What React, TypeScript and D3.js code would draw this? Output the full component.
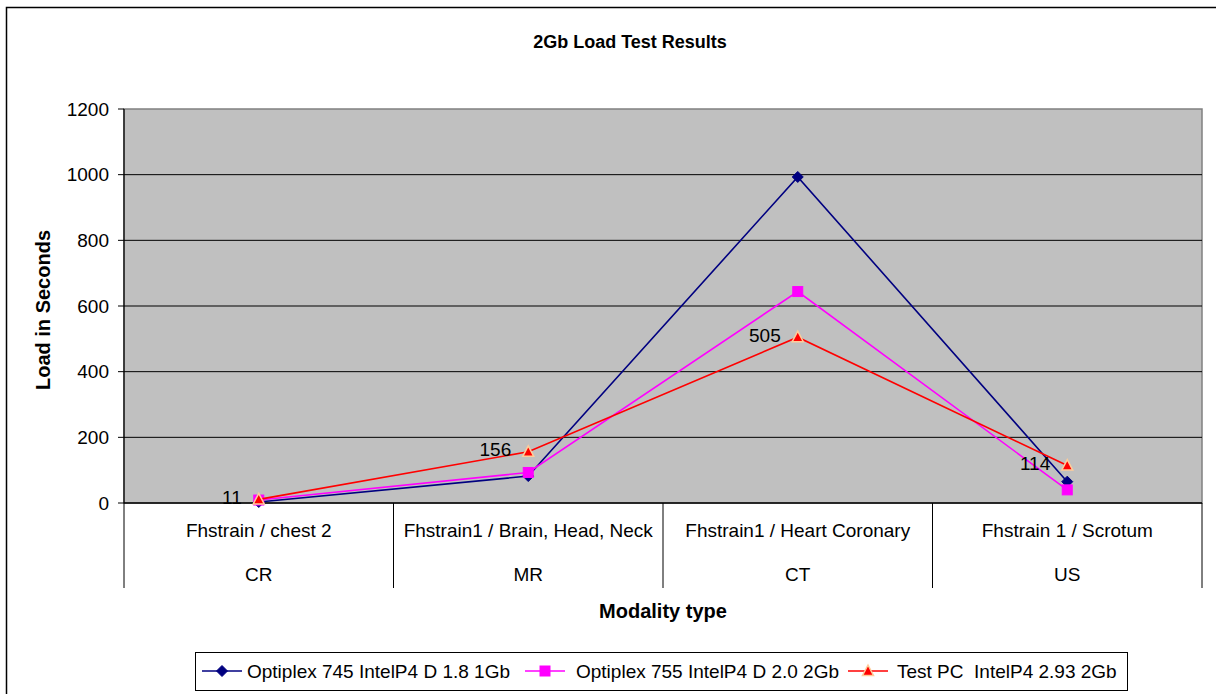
import * as d3 from 'd3';

const categories = ['CR', 'MR', 'CT', 'US'];
const subLabels = ['Fhstrain / chest 2', 'Fhstrain1 / Brain, Head, Neck', 'Fhstrain1 / Heart Coronary', 'Fhstrain 1 / Scrotum'];
const yTicks = [0, 200, 400, 600, 800, 1000, 1200];

const optiplex745 = [3, 82, 993, 65];
const optiplex755 = [9, 93, 644, 40];
const testPC = [11, 156, 505, 114];

type Series = { name: string; values: number[]; color: string; marker: 'diamond' | 'square' | 'triangle'; labels: boolean };

const series: Series[] = [
  { name: 'Optiplex 745 IntelP4 D 1.8 1Gb', values: optiplex745, color: '#000080', marker: 'diamond', labels: false },
  { name: 'Optiplex 755 IntelP4 D 2.0 2Gb', values: optiplex755, color: '#FF00FF', marker: 'square', labels: false },
  { name: 'Test PC  IntelP4 2.93 2Gb', values: testPC, color: '#FF0000', marker: 'triangle', labels: true },
];

const FONT = '"Liberation Sans", Arial, sans-serif';

function Marker({ kind, x, y, color }: { kind: string; x: number; y: number; color: string }) {
  if (kind === 'diamond') {
    return <path d={`M${x},${y - 5.5}L${x + 5.5},${y}L${x},${y + 5.5}L${x - 5.5},${y}Z`} fill={color} stroke={color} />;
  }
  if (kind === 'square') {
    return <rect x={x - 5} y={y - 5} width={10} height={10} fill={color} stroke={color} />;
  }
  return <path d={`M${x},${y - 6}L${x + 5.5},${y + 4.5}L${x - 5.5},${y + 4.5}Z`} fill={color} stroke="#FFCC99" strokeWidth={1.5} />;
}

export default function App() {
  const width = 1216;
  const height = 694;
  const left = 124, right = 1202, top = 109, bottom = 503;

  const xBand = d3.scaleBand<string>().domain(categories).range([left, right]);
  const y = d3.scaleLinear().domain([0, 1200]).range([bottom, top]);
  const cx = (c: string) => (xBand(c) ?? 0) + xBand.bandwidth() / 2;

  const line = d3.line<number>()
    .x((_, i) => cx(categories[i]))
    .y(d => y(d));

  const legendItems = [
    { lx: 202, tx: 247 },
    { lx: 525, tx: 576 },
    { lx: 848, tx: 897 },
  ];

  return (
    <svg width={width} height={height} style={{ position: 'absolute', left: 0, top: 0, fontFamily: FONT }}>
      <rect x={0} y={0} width={width} height={height} fill="#fff" />
      <rect x={6.5} y={7.5} width={1240} height={700} fill="#fff" stroke="#000" strokeWidth={1.5} />

      <text x={630} y={48} textAnchor="middle" fontWeight="bold" fontSize={18}>2Gb Load Test Results</text>

      {/* plot area */}
      <rect x={left} y={top} width={right - left} height={bottom - top} fill="#C0C0C0" stroke="#808080" strokeWidth={1.5} />
      {yTicks.filter(t => t > 0 && t < 1200).map(t => (
        <line key={t} x1={left} x2={right} y1={y(t)} y2={y(t)} stroke="#000" strokeWidth={1} />
      ))}
      {/* y axis */}
      <line x1={left} x2={left} y1={top} y2={bottom} stroke="#000" strokeWidth={1.2} />
      {yTicks.map(t => (
        <g key={t}>
          <line x1={left - 6} x2={left} y1={y(t)} y2={y(t)} stroke="#000" />
          <text x={109} y={y(t)} dy="0.35em" textAnchor="end" fontSize={19}>{t}</text>
        </g>
      ))}
      <text transform={`translate(50,${(top + bottom) / 2 + 4}) rotate(-90)`} textAnchor="middle" fontWeight="bold" fontSize={20}>Load in Seconds</text>

      {/* category axis */}
      <line x1={left} x2={right} y1={bottom} y2={bottom} stroke="#000" strokeWidth={1.5} />
      {[...categories.map(c => xBand(c) ?? 0), right].map((bx, i) => (
        <line key={i} x1={bx} x2={bx} y1={bottom} y2={588} stroke="#000" strokeWidth={1} />
      ))}
      {categories.map((c, i) => (
        <g key={c}>
          <text x={cx(c)} y={530} dy="0.35em" textAnchor="middle" fontSize={19}>{subLabels[i]}</text>
          <text x={cx(c)} y={574} dy="0.35em" textAnchor="middle" fontSize={19}>{c}</text>
        </g>
      ))}
      <text x={(left + right) / 2} y={611} dy="0.35em" textAnchor="middle" fontWeight="bold" fontSize={20}>Modality type</text>

      {/* series */}
      {series.map(s => (
        <g key={s.name}>
          <path d={line(s.values) ?? ''} fill="none" stroke={s.color} strokeWidth={1.6} />
          {s.values.map((v, i) => (
            <Marker key={i} kind={s.marker} x={cx(categories[i])} y={y(v)} color={s.color} />
          ))}
        </g>
      ))}
      {series.filter(s => s.labels).map(s => s.values.map((v, i) => (
        <text key={s.name + i} x={cx(categories[i]) - 17} y={y(v) - 2} dy="0.35em" textAnchor="end" fontSize={19}>{v}</text>
      )))}

      {/* legend */}
      <rect x={195.5} y={652.5} width={932} height={38} fill="#fff" stroke="#000" strokeWidth={1} />
      {series.map((s, i) => (
        <g key={s.name}>
          <line x1={legendItems[i].lx} x2={legendItems[i].lx + 40} y1={671} y2={671} stroke={s.color} strokeWidth={1.6} />
          <Marker kind={s.marker} x={legendItems[i].lx + 20} y={671} color={s.color} />
          <text x={legendItems[i].tx} y={671} dy="0.35em" fontSize={19} style={{ whiteSpace: 'pre' }}>{s.name}</text>
        </g>
      ))}
    </svg>
  );
}
